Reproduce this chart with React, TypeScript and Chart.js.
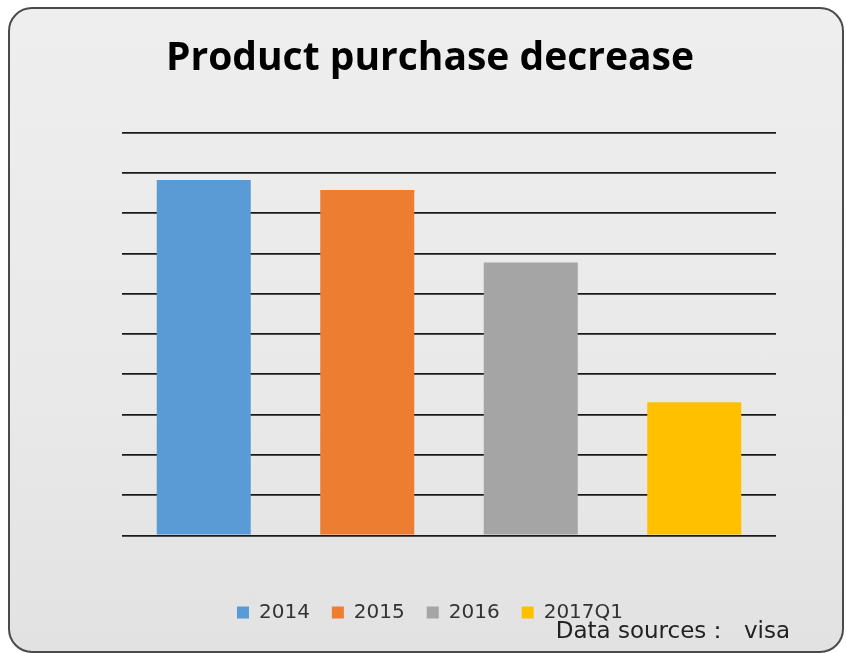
import React, { useEffect, useRef } from "react";
import { Chart, registerables } from "chart.js";

Chart.register(...registerables);

const categories = ["2014", "2015", "2016", "2017Q1"];
const values = [8.83, 8.58, 6.78, 3.31];
const colors = ["#5B9BD5", "#ED7D31", "#A5A5A5", "#FFC000"];
const yMin = 0;
const yMax = 10;
const yStep = 1;
const titleText = "Product purchase decrease";
const sourceText = "Data sources：  visa";

export default function App() {
  const ref = useRef<HTMLCanvasElement | null>(null);

  useEffect(() => {
    if (!ref.current) return;
    const datasets = categories.map((c, i) => ({
      label: c,
      data: categories.map((_, j) => (j === i ? values[i] : null)),
      backgroundColor: colors[i],
      borderWidth: 0,
      barPercentage: 0.575,
      categoryPercentage: 1,
      yAxisID: "y",
    }));
    const chart = new Chart(ref.current, {
      type: "bar",
      data: { labels: categories, datasets },
      options: {
        animation: false,
        responsive: false,
        maintainAspectRatio: false,
        layout: { padding: { left: 70, right: 56, top: 0, bottom: 0 } },
        plugins: {
          tooltip: { enabled: false },
          title: {
            display: true,
            text: titleText,
            color: "#000",
            font: { family: "'Open Sans'", size: 39, weight: "bold" },
            padding: { top: 35, bottom: 51 },
          },
          legend: {
            position: "bottom",
            labels: {
              color: "#333",
              font: { family: "'DejaVu Sans'", size: 20 },
              boxWidth: 12,
              boxHeight: 12,
              padding: 22,
            },
          },
          subtitle: {
            display: true,
            position: "bottom",
            align: "end",
            text: sourceText,
            color: "#222",
            font: { family: "'DejaVu Sans'", size: 23 },
            padding: { top: -14, bottom: 7 },
          },
        },
        scales: {
          x: {
            stacked: true,
            display: true,
            grid: { display: false },
            border: { display: false },
            ticks: { display: false },
            afterFit: (s: any) => {
              s.height = 45;
            },
          },
          y: {
            min: yMin,
            max: yMax,
            ticks: { display: false, stepSize: yStep },
            grid: { color: "#1a1a1a", lineWidth: 1.8, drawTicks: false },
            border: { display: false },
            afterFit: (s: any) => {
              s.width = 52;
            },
          },
          yRight: {
            position: "right",
            display: true,
            min: yMin,
            max: yMax,
            ticks: { display: false },
            grid: { display: false },
            border: { display: false },
            afterFit: (s: any) => {
              s.width = 14;
            },
          },
        },
      },
    });
    return () => chart.destroy();
  }, []);

  return (
    <div style={{ position: "absolute", left: 0, top: 0, width: 846, height: 653, overflow: "hidden" }}>
      <div
        style={{
          position: "absolute",
          left: 8,
          top: 7,
          width: 836,
          height: 646,
          boxSizing: "border-box",
          border: "2px solid #4a4a4a",
          borderRadius: 24,
          background: "linear-gradient(to bottom, #eeeeee 0%, #e9e9e9 60%, #e2e2e2 100%)",
        }}
      />
      <canvas
        ref={ref}
        width={846}
        height={653}
        style={{ position: "absolute", left: 0, top: 0, width: 846, height: 653 }}
      />
    </div>
  );
}
